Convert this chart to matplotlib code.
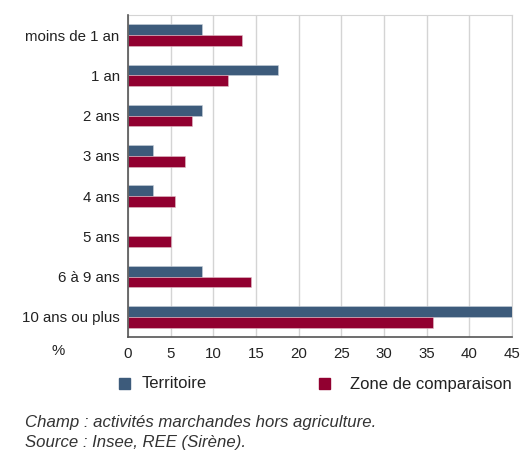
import numpy as np
import matplotlib
matplotlib.use("Agg")
from matplotlib import pyplot as plt
from matplotlib.patches import Rectangle

categories = ['moins de 1 an', '1 an', '2 ans', '3 ans', '4 ans', '5 ans', '6 à 9 ans', '10 ans ou plus']
territoire = [8.7, 17.6, 8.7, 2.9, 2.9, 0.0, 8.7, 50.4]
zone = [13.4, 11.7, 7.5, 6.7, 5.5, 5.0, 14.4, 35.7]
xticks = [0, 5, 10, 15, 20, 25, 30, 35, 40, 45]

blue = '#3d5b7b'
red = '#910030'

plt.rcParams['font.family'] = ['Liberation Sans', 'DejaVu Sans']

fig = plt.figure(figsize=(5.24, 4.53), dpi=100)
ax = fig.add_axes([128 / 524, 1 - 337 / 453, 384 / 524, 322 / 453])

y = np.arange(len(categories))
h = 0.27
ax.barh(y - h / 2, territoire, height=h, color=blue, edgecolor='#c8d0da', linewidth=0.4, zorder=3)
ax.barh(y + h / 2, zone, height=h, color=red, edgecolor='#e0c0c8', linewidth=0.4, zorder=3)

ax.set_xlim(0, 45)
ax.set_ylim(len(categories) - 0.5, -0.5)
ax.set_yticks(y)
ax.set_yticklabels(categories, fontsize=10.8, color='#222222')
ax.set_xticks(xticks)
ax.set_xticklabels([str(t) for t in xticks], fontsize=10.8, color='#222222')
ax.tick_params(length=0, pad=7)
ax.tick_params(axis='y', pad=6)
ax.grid(axis='x', color='#d4d4d4', linewidth=1, zorder=0)

for s in ['top', 'right']:
    ax.spines[s].set_color('#d4d4d4')
for s in ['left', 'bottom']:
    ax.spines[s].set_color('#555555')
    ax.spines[s].set_linewidth(1.2)
    ax.spines[s].set_zorder(4)

fig.text(58 / 524, 1 - 351 / 453, '%', fontsize=10.8, color='#222222', ha='center', va='center')

# legend
fig.patches.append(Rectangle((119 / 524, 1 - 389 / 453), 11 / 524, 11 / 453,
                             transform=fig.transFigure, color=blue))
fig.text(142 / 524, 1 - 384 / 453, 'Territoire', fontsize=12, color='#222222', va='center')
fig.patches.append(Rectangle((319 / 524, 1 - 389 / 453), 11 / 524, 11 / 453,
                             transform=fig.transFigure, color=red))
fig.text(350 / 524, 1 - 384 / 453, 'Zone de comparaison', fontsize=12, color='#222222', va='center')

fig.text(25 / 524, 1 - 422 / 453, 'Champ : activités marchandes hors agriculture.',
         fontsize=12.1, style='italic', color='#333333', va='center')
fig.text(25 / 524, 1 - 442 / 453, 'Source : Insee, REE (Sirène).',
         fontsize=12.1, style='italic', color='#333333', va='center')

fig.savefig('out.png', dpi=100)
